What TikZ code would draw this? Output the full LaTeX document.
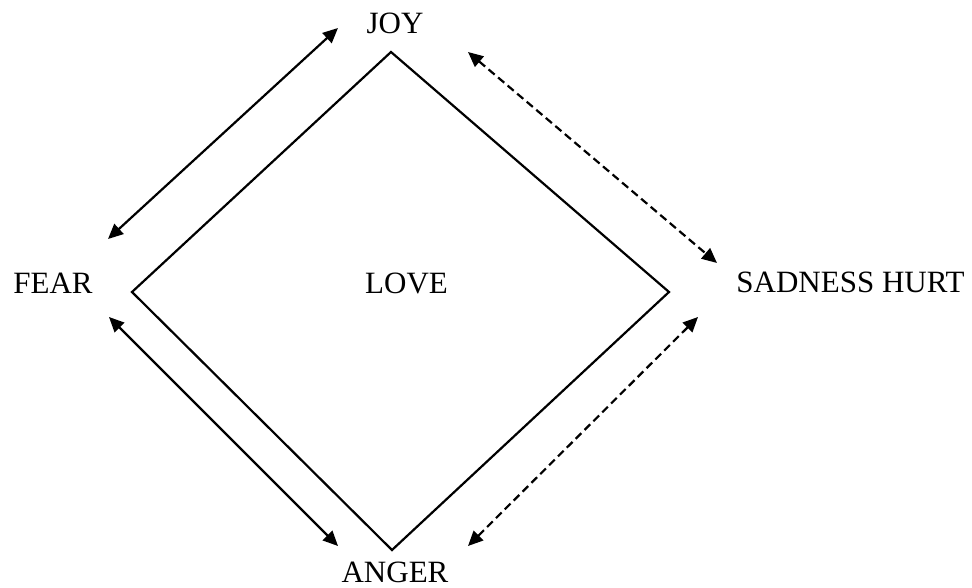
\documentclass[tikz,border=0pt]{standalone}
\usepackage{fontspec}
\setmainfont{Liberation Serif}
\usetikzlibrary{arrows.meta}
\begin{document}
\begin{tikzpicture}[x=1pt,y=-1pt,
  lbl/.style={anchor=base,inner sep=0pt,font=\fontsize{31}{37}\selectfont},
  side/.style={line width=2.2pt,line join=miter},
  biarrow/.style={line width=2.2pt,{Triangle[length=15pt,width=13.5pt]}-{Triangle[length=15pt,width=13.5pt]}},
  dasharrow/.style={biarrow,dash pattern=on 8pt off 4.5pt}]
\useasboundingbox (0,0) rectangle (972,588);
% diamond vertices
\coordinate (top) at (391,52);
\coordinate (left) at (132,292);
\coordinate (right) at (669,292);
\coordinate (bottom) at (392,550);
\draw[side] (top) -- (right) -- (bottom) -- (left) -- cycle;
% labels
\node[lbl] (joy) at (395,34) {JOY};
\node[lbl] (fear) at (53,293) {FEAR};
\node[lbl] (love) at (406.5,293) {LOVE};
\node[lbl] (sad) at (850.5,292) {SADNESS HURT};
\node[lbl] (anger) at (395,582) {ANGER};
% arrow ends
\coordinate (jf1) at (338,28);
\coordinate (jf2) at (108,239);
\coordinate (js1) at (468,52);
\coordinate (js2) at (717,263);
\coordinate (fa1) at (109,317);
\coordinate (fa2) at (338,546);
\coordinate (as1) at (468,546);
\coordinate (as2) at (698,317);
\draw[biarrow] (jf1) -- (jf2);
\draw[dasharrow] (js1) -- (js2);
\draw[biarrow] (fa1) -- (fa2);
\draw[dasharrow] (as1) -- (as2);
\end{tikzpicture}
\end{document}
